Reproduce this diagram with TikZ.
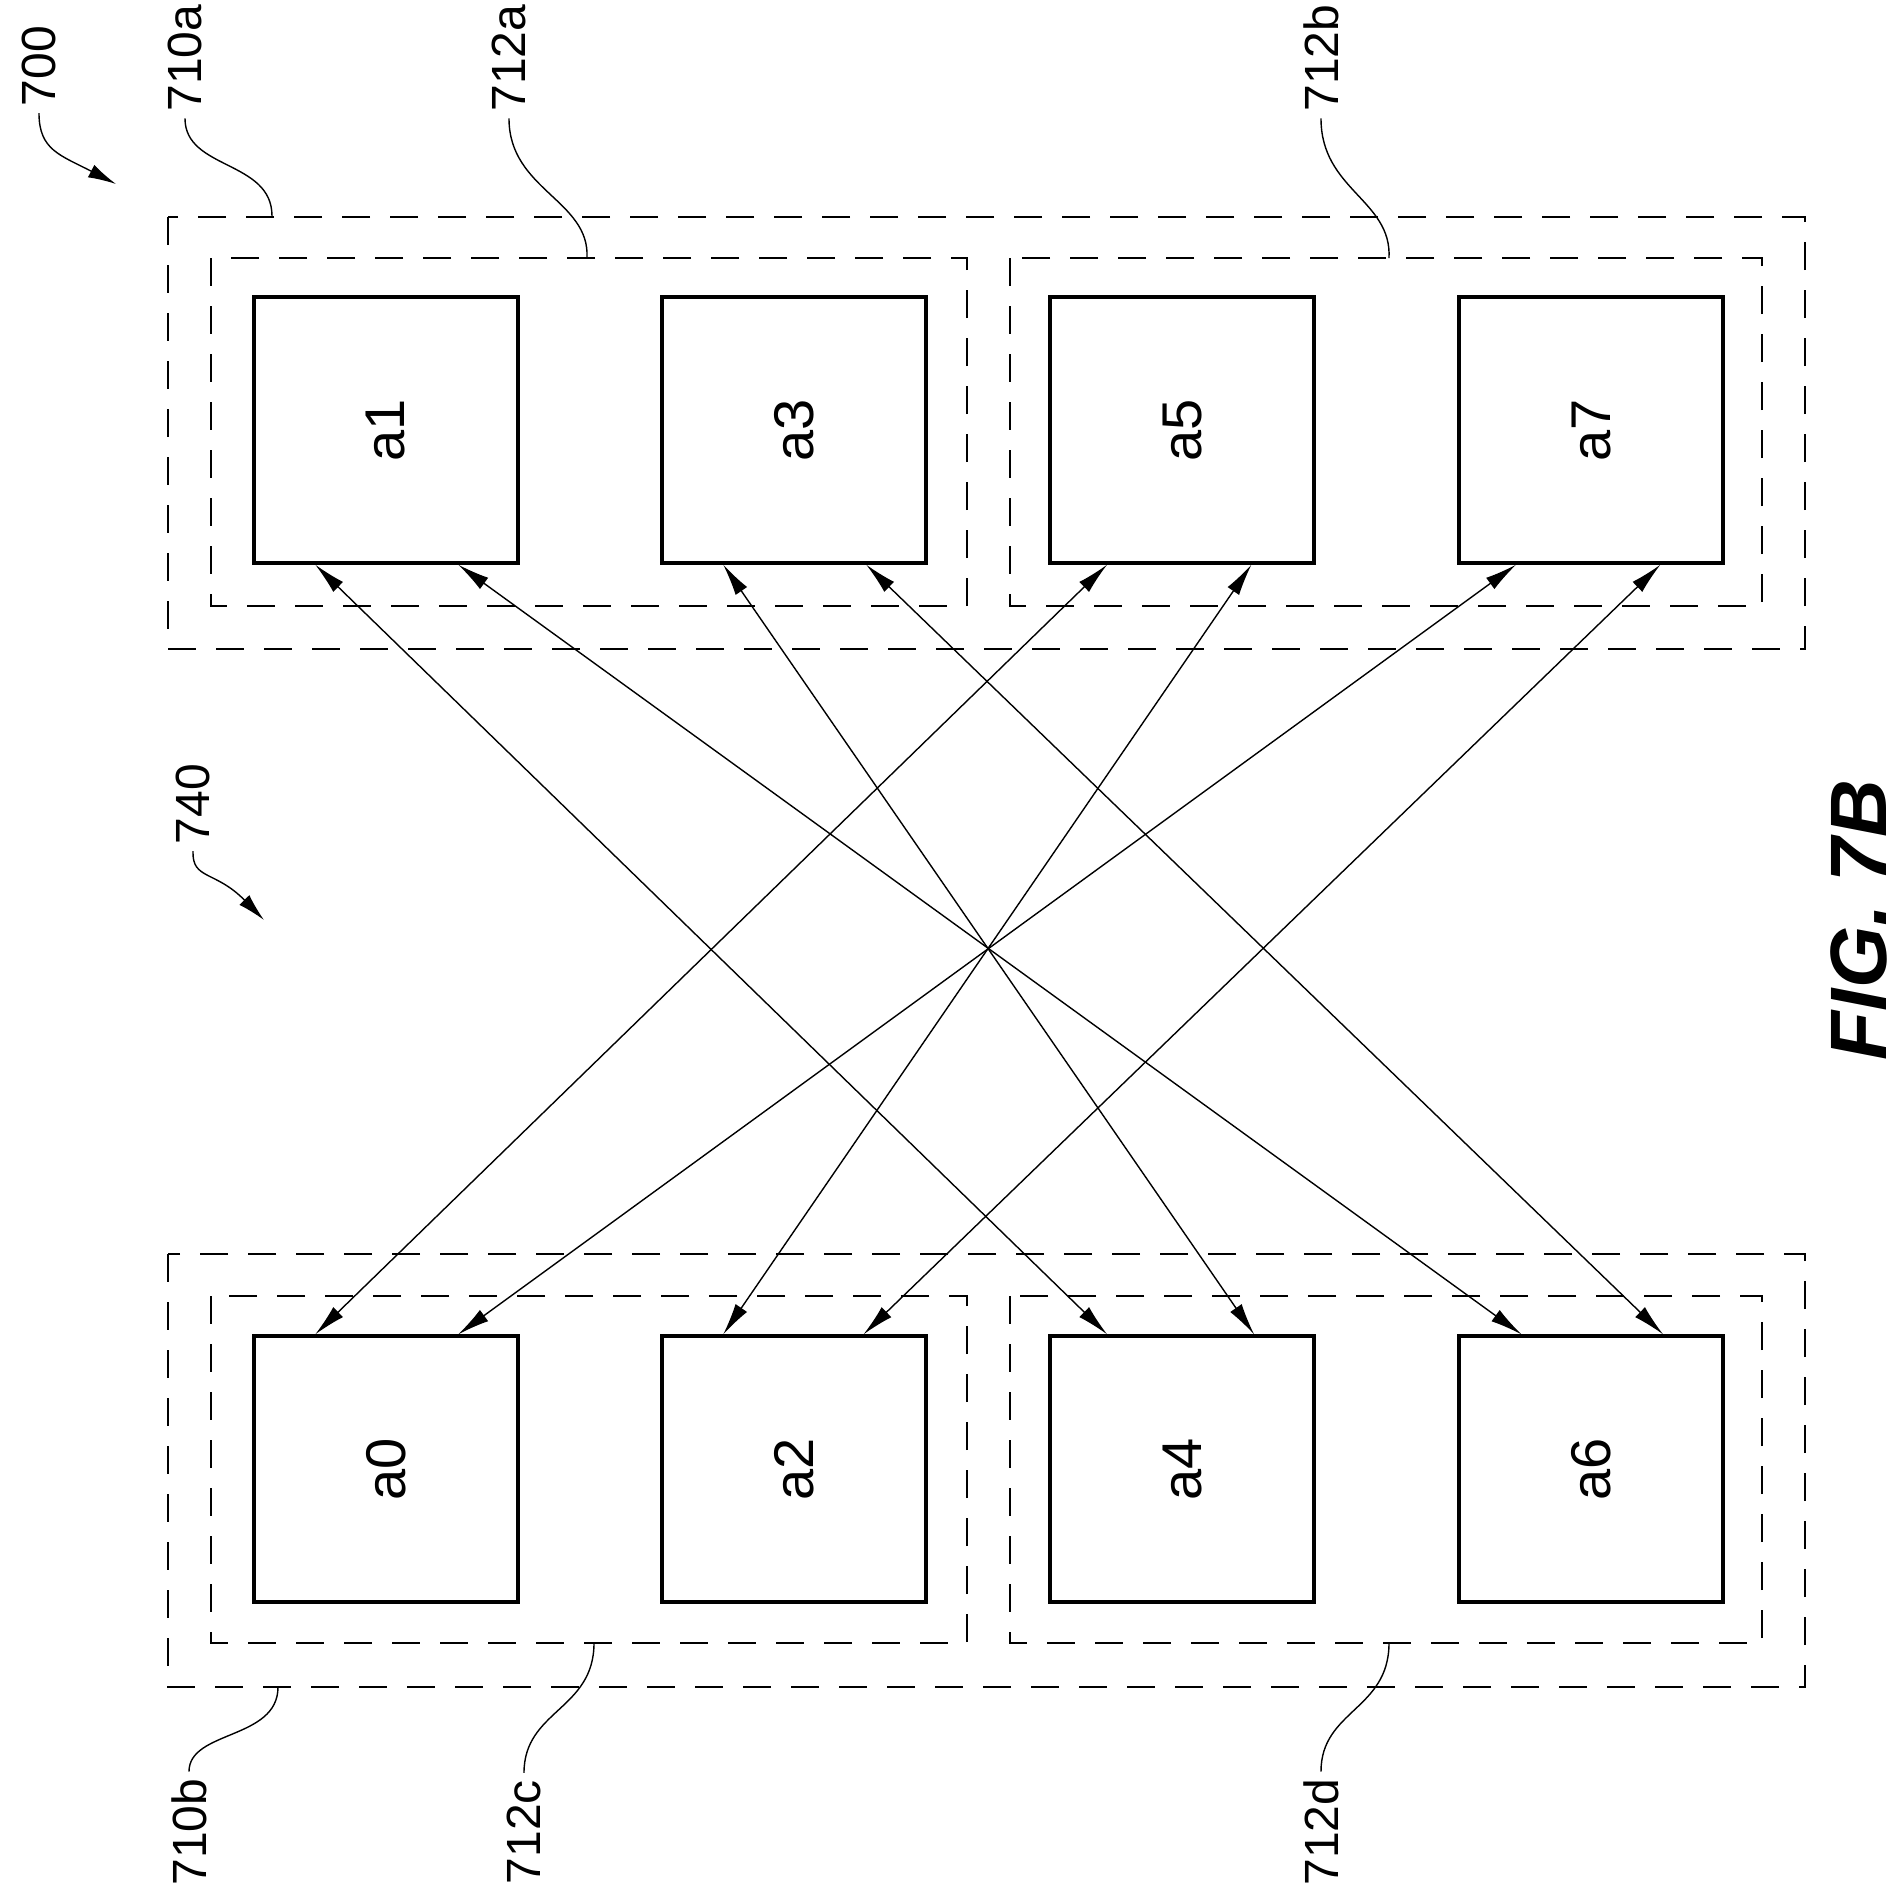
\documentclass[tikz,border=0pt]{standalone}
\usepackage{fontspec}
\setmainfont{Liberation Sans}
\usetikzlibrary{calc,arrows.meta}
\begin{document}
\begin{tikzpicture}[x=0.5pt,y=-0.5pt,
  blk/.style={draw,line width=1.6pt,minimum width=132pt,minimum height=133pt,inner sep=0pt,font=\fontsize{28}{28}\selectfont},
  grp/.style={draw,line width=0.6pt,dash pattern=on 14pt off 10pt},
  conn/.style={line width=0.7pt,{Latex[length=16pt,width=7pt]}-{Latex[length=16pt,width=7pt]}},
  lead/.style={line width=0.7pt},
  lbl/.style={rotate=90,font=\fontsize{24}{24}\selectfont},
  ]
\useasboundingbox (0,0) rectangle (1902,1897);
% groups
\draw[grp] (168,217) rectangle (1805,649);
\draw[grp] (168,1254) rectangle (1805,1687);
\draw[grp] (211,258) rectangle (967,606);
\draw[grp] (1010,258) rectangle (1762,606);
\draw[grp] (211,1296) rectangle (967,1643);
\draw[grp] (1010,1296) rectangle (1762,1643);
% blocks
\foreach \n/\x in {a1/386,a3/794,a5/1182,a7/1591}{
  \node[blk] (\n) at (\x,430) {\rotatebox{90}{\n}};}
\foreach \n/\x in {a0/386,a2/794,a4/1182,a6/1591}{
  \node[blk] (\n) at (\x,1469) {\rotatebox{90}{\n}};}
% connectors
\foreach \s/\sf/\t/\tf in {a1/0.235/a4/0.22, a1/0.77/a6/0.24, a3/0.235/a4/0.77, a3/0.77/a6/0.77,
                          a5/0.22/a0/0.235, a5/0.76/a2/0.235, a7/0.22/a0/0.77, a7/0.76/a2/0.76}{
  \draw[conn] ($(\s.south west)!\sf!(\s.south east)$) -- ($(\t.north west)!\tf!(\t.north east)$);}
% labels
\node[lbl] (l700) at (39,66) {700};
\node[lbl] (l710a) at (185,58) {710a};
\node[lbl] (l712a) at (509,58) {712a};
\node[lbl] (l712b) at (1321,58) {712b};
\node[lbl] (l740) at (193,804) {740};
\node[lbl] (l710b) at (189,1832) {710b};
\node[lbl] (l712c) at (524,1832) {712c};
\node[lbl] (l712d) at (1321,1832) {712d};
\node[rotate=90,font=\fontsize{40}{40}\selectfont\bfseries\itshape] (fig) at (1859,920) {FIG. 7B};
% leaders
\draw[lead] (l710a.west) .. controls (185,170) and (272,160) .. (272,216);
\draw[lead] (l712a.west) .. controls (509,190) and (590,200) .. (587,258);
\draw[lead] (l712b.west) .. controls (1321,190) and (1392,200) .. (1389,258);
\draw[lead] (278,1687) .. controls (278,1740) and (189,1730) .. (l710b.east);
\draw[lead] (594,1643) .. controls (594,1710) and (524,1710) .. (l712c.east);
\draw[lead] (1389,1643) .. controls (1389,1710) and (1321,1710) .. (l712d.east);
\draw[lead,-{Latex[length=14pt,width=7pt]}] (l700.west) .. controls (39,150) and (60,155) .. (116,184);
\draw[lead,-{Latex[length=14pt,width=7pt]}] (l740.west) .. controls (192,880) and (215,870) .. (264,920);
\end{tikzpicture}
\end{document}
